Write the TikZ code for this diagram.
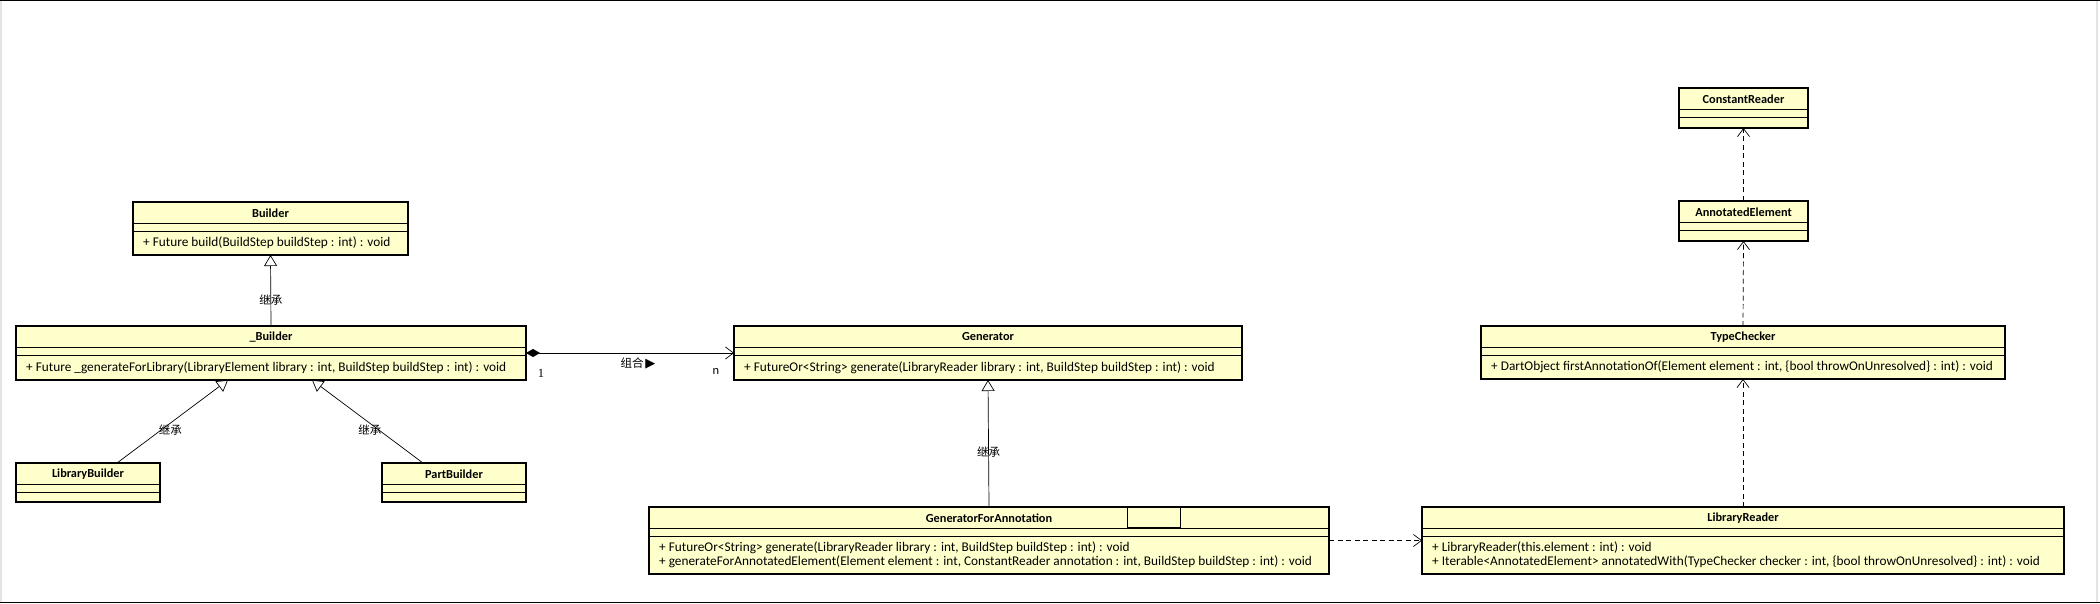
\documentclass[tikz,border=0pt]{standalone}
\usepackage{fontspec}
\setmainfont{Carlito}
\newfontfamily\cjk{Noto Sans CJK SC}
\newfontfamily\shapefont{DejaVu Sans}
\newfontfamily\seriffont{Liberation Serif}
\usetikzlibrary{arrows.meta,calc}
\definecolor{umlyellow}{RGB}{255,255,204}
\definecolor{framegray}{RGB}{228,228,228}
\tikzset{
  classbox/.style={draw, line width=1.6pt, fill=umlyellow, inner sep=0pt, outer sep=0pt, anchor=north west},
  classname/.style={font=\fontsize{12.3}{14}\selectfont\bfseries, inner sep=0pt},
  members/.style={font=\fontsize{13.3}{14}\selectfont, align=left, inner sep=0pt, anchor=west},
  sep/.style={line width=0.8pt},
  inherit/.style={-{Triangle[open,length=11pt,width=13pt]}, line width=0.7pt},
  depend/.style={-{Straight Barb[length=8pt,width=12pt]}, dash pattern=on 5pt off 3.5pt, line width=0.7pt},
  compose/.style={{Diamond[length=14pt,width=8pt]}-{Straight Barb[length=8pt,width=12pt]}, line width=0.7pt},
  rel/.style={font=\cjk\fontsize{11.5}{13}\selectfont, inner sep=0pt},
}
% box with name, attribute and operation compartments
\newcommand{\umlclass}[6]{%
  \node[classbox, minimum width=#3, minimum height=#4] (#1) at #2 {};
  \draw[sep] ([yshift=-21.5pt]#1.north west) -- ([yshift=-21.5pt]#1.north east);
  \draw[sep] ([yshift=-29pt]#1.north west) -- ([yshift=-29pt]#1.north east);
  \node[classname] (#1-name) at ([yshift=-11pt]#1.north) {#5};
  \node[members] (#1-ops) at ($([xshift=10pt,yshift=-29pt]#1.north west)!0.5!([xshift=10pt]#1.south west)$) {#6};
}
\begin{document}
\begin{tikzpicture}[x=1pt, y=-1pt]
    \useasboundingbox (0,0) rectangle (2100,604);
    % frame
    \draw[line width=1pt] (0,1) -- (2100,1);
    \draw[line width=1pt] (0,602) -- (2100,602);
    \draw[framegray, line width=1.5pt] (1,1) -- (1,602);
    \draw[framegray, line width=1.5pt] (2097,1) -- (2097,602);
    % builders
    \umlclass{builder}{(133,202)}{275pt}{53pt}{Builder}{+ Future build(BuildStep buildStep : int) : void}
    \umlclass{builderimpl}{(16,326)}{510pt}{54pt}{\_Builder}{+ Future \_generateForLibrary(LibraryElement library : int, BuildStep buildStep : int) : void}
    \umlclass{libbuilder}{(16,463)}{144pt}{39pt}{LibraryBuilder}{}
    \umlclass{partbuilder}{(382,463)}{144pt}{39pt}{PartBuilder}{}
    % generators
    \umlclass{generator}{(734,326)}{508pt}{54pt}{Generator}{+ FutureOr<String> generate(LibraryReader library : int, BuildStep buildStep : int) : void}
    \umlclass{genannot}{(649,507)}{680pt}{67pt}{GeneratorForAnnotation}{+ FutureOr<String> generate(LibraryReader library : int, BuildStep buildStep : int) : void\\+ generateForAnnotatedElement(Element element : int, ConstantReader annotation : int, BuildStep buildStep : int) : void}
    \node[draw, line width=0.8pt, minimum width=53pt, minimum height=20pt, inner sep=0pt, outer sep=0pt, anchor=north west] (genannot-tab) at (1127,507) {};
    % readers and checker
    \umlclass{libreader}{(1422,507)}{642pt}{67pt}{LibraryReader}{+ LibraryReader(this.element : int) : void\\+ Iterable<AnnotatedElement> annotatedWith(TypeChecker checker : int, \{bool throwOnUnresolved\} : int) : void}
    \umlclass{typechecker}{(1481,326)}{524pt}{53pt}{TypeChecker}{+ DartObject firstAnnotationOf(Element element : int, \{bool throwOnUnresolved\} : int) : void}
    \umlclass{annotated}{(1679,201)}{129pt}{40pt}{AnnotatedElement}{}
    \umlclass{constreader}{(1679,88)}{129pt}{40pt}{ConstantReader}{}
    % inheritance
    \draw[inherit] (builderimpl.north) -- node[rel, pos=0.37] (inh1) {继承} (builder.south);
    \draw[inherit] ([xshift=29pt]libbuilder.north) -- node[rel, pos=0.4, anchor=west, xshift=-3pt] (inh2) {继承} ([xshift=-43pt]builderimpl.south);
    \draw[inherit] ([xshift=-31pt]partbuilder.north) -- node[rel, pos=0.4, anchor=east, xshift=3pt] (inh3) {继承} ([xshift=41pt]builderimpl.south);
    \draw[inherit] (genannot.north) -- node[rel, pos=0.43] (inh4) {继承} (generator.south);
    % composition
    \draw[compose] (builderimpl.east) -- (generator.west);
    \node[font=\seriffont\fontsize{12.5}{14}\selectfont] (own-one) at (541,373) {1};
    \node[font=\fontsize{12.5}{14}\selectfont] (own-n) at (716,371) {n};
    \node[rel] (own-label) at (638,363) {组合\,{\shapefont\fontsize{13}{13}\selectfont ▶}};
    % dependencies
    \draw[depend] (genannot.east) -- (libreader.west);
    \draw[depend] (libreader.north) -- (typechecker.south);
    \draw[depend] (typechecker.north) -- (annotated.south);
    \draw[depend] (annotated.north) -- (constreader.south);
\end{tikzpicture}
\end{document}
